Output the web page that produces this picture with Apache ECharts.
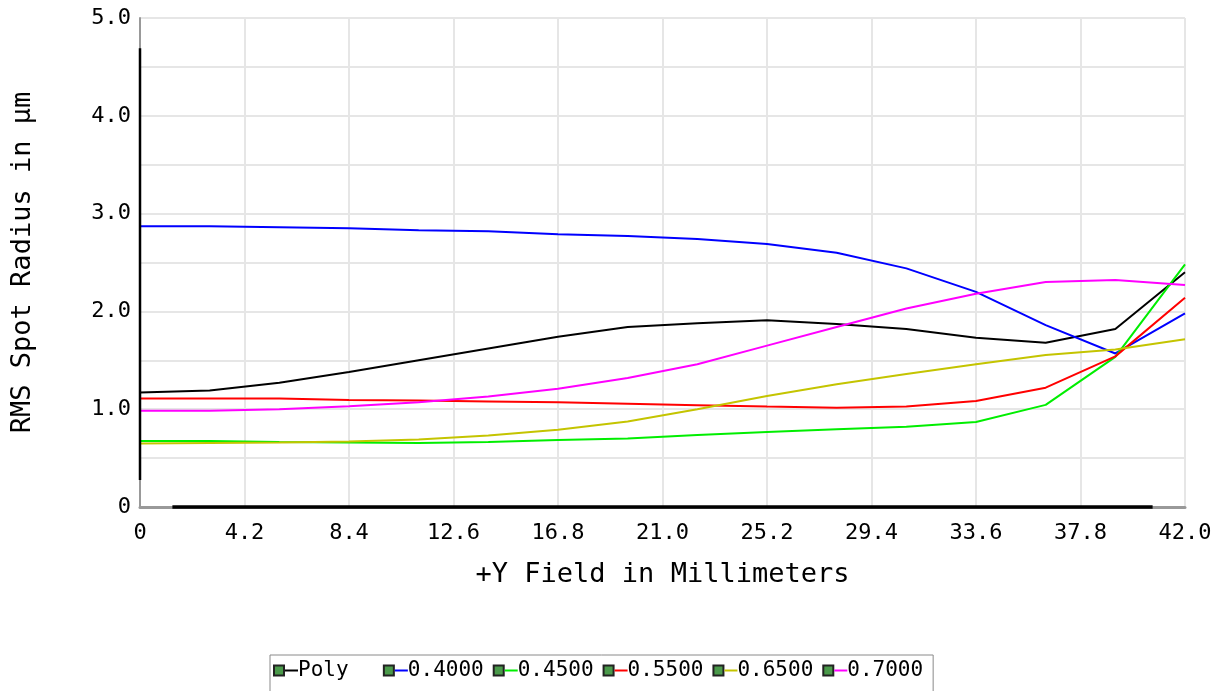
<!DOCTYPE html>
<html>
<head>
<meta charset="utf-8">
<script src="https://cdn.jsdelivr.net/npm/echarts@6/dist/echarts.min.js"></script>
<style>
html,body{margin:0;padding:0;background:#fff;}
#c{width:1225px;height:691px;}
</style>
</head>
<body>
<div id="c"></div>
<script>
// Field positions (mm)
const fieldY = [0, 2.8, 5.6, 8.4, 11.2, 14.0, 16.8, 19.6, 22.4, 25.2, 28.0, 30.8, 33.6, 36.4, 39.2, 42.0];
// RMS spot radius (µm)
const poly = [1.17, 1.19, 1.27, 1.38, 1.50, 1.62, 1.74, 1.84, 1.88, 1.91, 1.87, 1.82, 1.73, 1.68, 1.82, 2.40];
const w400 = [2.87, 2.87, 2.86, 2.85, 2.83, 2.82, 2.79, 2.77, 2.74, 2.69, 2.60, 2.44, 2.20, 1.86, 1.57, 1.98];
const w450 = [0.675, 0.675, 0.665, 0.66, 0.655, 0.665, 0.685, 0.70, 0.737, 0.768, 0.795, 0.82, 0.87, 1.044, 1.535, 2.48];
const w550 = [1.11, 1.11, 1.11, 1.095, 1.09, 1.08, 1.07, 1.055, 1.04, 1.027, 1.016, 1.027, 1.083, 1.22, 1.54, 2.14];
const w650 = [0.65, 0.655, 0.66, 0.67, 0.69, 0.73, 0.79, 0.875, 1.0, 1.135, 1.255, 1.36, 1.46, 1.555, 1.61, 1.715];
const w700 = [0.985, 0.985, 1.0, 1.03, 1.07, 1.13, 1.21, 1.32, 1.46, 1.65, 1.84, 2.03, 2.18, 2.30, 2.32, 2.27];

const seriesNames = ['Poly', '0.4000', '0.4500', '0.5500', '0.6500', '0.7000'];
const seriesData = [poly, w400, w450, w550, w650, w700];
const colors = ['#000000', '#0000ff', '#00ee00', '#ff0000', '#c4c400', '#ff00ff'];

const FONT = '"DejaVu Sans Mono", "Liberation Mono", monospace';

const chart = echarts.init(document.getElementById('c'));

const rich = {
  box: { width: 8, height: 8, backgroundColor: '#4a9a4a', borderColor: '#222', borderWidth: 2, fontSize: 1 },
  sp: { width: 2, fontSize: 1 }
};
colors.forEach((c, i) => {
  rich['d' + i] = { width: 13, height: 2, backgroundColor: c, fontSize: 1 };
});
rich.t = { color: '#000', fontFamily: FONT, fontSize: 21 };

const option = {
  animation: false,
  backgroundColor: '#ffffff',
  color: colors,
  grid: { left: 140, right: 40, top: 18, bottom: 184, containLabel: false },
  xAxis: {
    type: 'value', min: 0, max: 42, interval: 4.2,
    name: '+Y Field in Millimeters', nameLocation: 'middle', nameGap: 54,
    nameTextStyle: { fontFamily: FONT, fontSize: 27, color: '#000' },
    axisLine: { show: true, lineStyle: { color: '#999', width: 3 } },
    axisTick: { show: false },
    axisLabel: {
      margin: 15, fontFamily: FONT, fontSize: 22, color: '#000',
      formatter: v => (Math.abs(v) < 1e-9 ? '0' : v.toFixed(1))
    },
    splitLine: { show: true, lineStyle: { color: '#e6e6e6', width: 2 } }
  },
  yAxis: {
    type: 'value', min: 0, max: 5, interval: 0.5,
    name: 'RMS Spot Radius in µm', nameLocation: 'middle', nameGap: 104,
    nameTextStyle: { fontFamily: FONT, fontSize: 27, color: '#000' },
    axisLine: { show: true, lineStyle: { color: '#999', width: 2 } },
    axisTick: { show: false },
    axisLabel: {
      margin: 9, fontFamily: FONT, fontSize: 22, color: '#000',
      formatter: v => {
        if (Math.abs(v) < 1e-9) return '0';
        if (Math.abs(v - Math.round(v)) > 1e-6) return '';
        return v.toFixed(1);
      }
    },
    splitLine: { show: true, lineStyle: { color: '#e6e6e6', width: 2 } }
  },
  legend: {
    left: 270, top: 655,
    orient: 'horizontal',
    padding: [5, 10, 12, 0],
    itemGap: 6,
    itemWidth: 0, itemHeight: 0,
    icon: 'rect',
    borderColor: '#8a8a8a', borderWidth: 1,
    textStyle: { fontFamily: FONT, fontSize: 21, color: '#000', rich: rich },
    formatter: name => {
      const i = seriesNames.indexOf(name);
      const padded = (name + '      ').slice(0, 6);
      return '{box|}{sp|}{d' + i + '|}{t|' + padded + '}';
    },
    data: seriesNames
  },
  series: seriesNames.map((n, i) => ({
    name: n,
    type: 'line',
    data: fieldY.map((x, j) => [x, seriesData[i][j]]),
    showSymbol: false,
    symbol: 'none',
    lineStyle: { color: colors[i], width: 2 },
    itemStyle: { color: colors[i] },
    z: 3
  }))
};
chart.setOption(option);

// darker middle portion of axis lines (as in reference)
const p0 = chart.convertToPixel({ gridIndex: 0 }, [0, 0]);
const p1 = chart.convertToPixel({ gridIndex: 0 }, [42, 5]);
const w = p1[0] - p0[0], h = p0[1] - p1[1];
chart.setOption({
  graphic: [
    { type: 'line', shape: { x1: p0[0], y1: p1[1] + h * 0.062, x2: p0[0], y2: p0[1] - h * 0.055 },
      style: { stroke: '#000', lineWidth: 2.5 }, z: 10 },
    { type: 'line', shape: { x1: p0[0] + w * 0.031, y1: p0[1], x2: p1[0] - w * 0.031, y2: p0[1] },
      style: { stroke: '#000', lineWidth: 3.5 }, z: 10 }
  ]
});
</script>
</body>
</html>
